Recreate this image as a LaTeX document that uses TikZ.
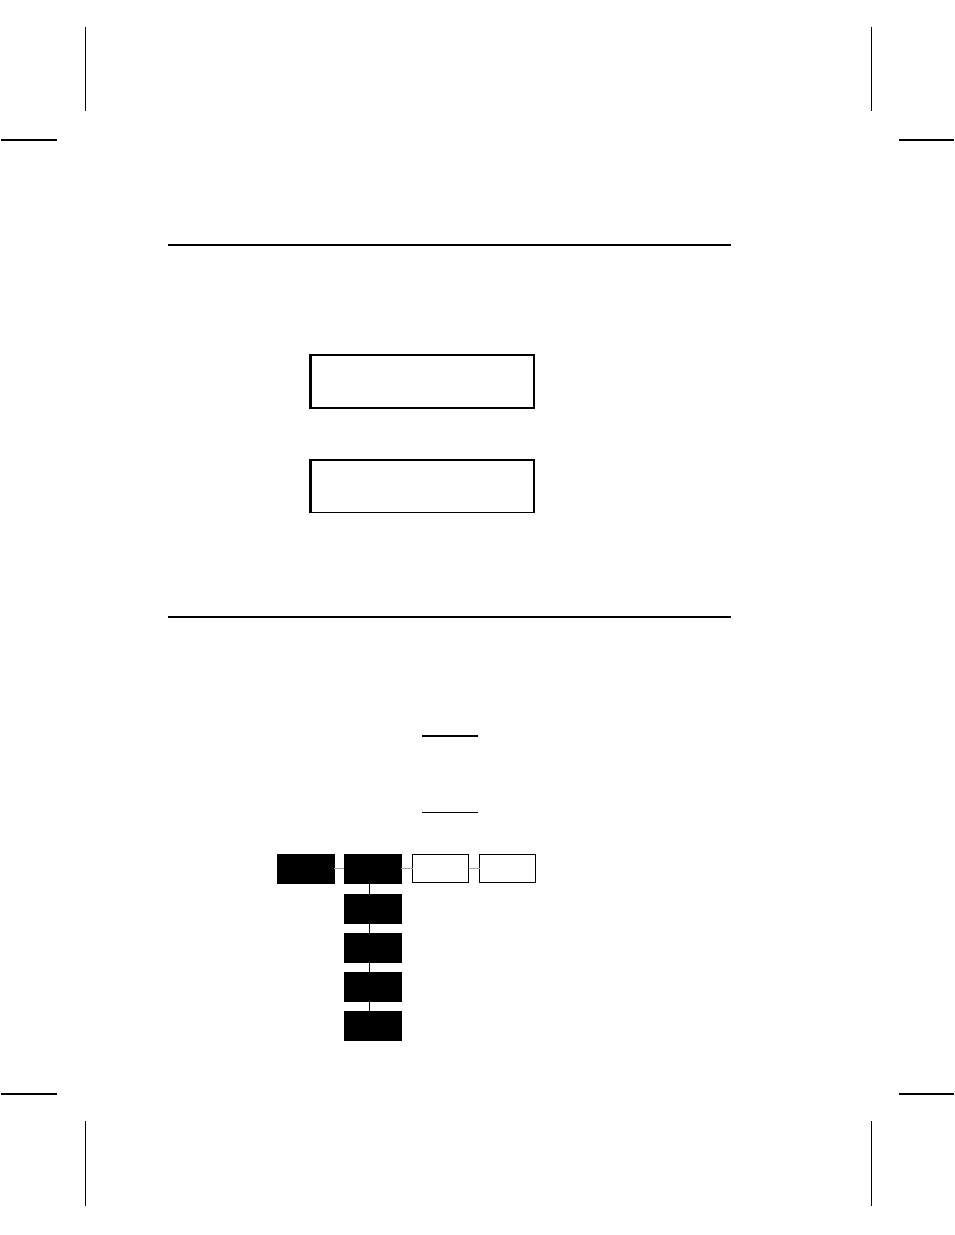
\documentclass[tikz,border=0pt]{standalone}
\begin{document}
\begin{tikzpicture}[x=1pt,y=-1pt,
  crop/.style={line width=1.3pt,black},
  cropthick/.style={line width=2pt,black},
  rule/.style={line width=1.5pt,black},
  panel/.style={draw,line width=1.1pt,minimum width=224pt,minimum height=53pt,inner sep=0pt,outer sep=0pt},
  blk/.style={fill=black,draw=black,line width=0.8pt,minimum width=57pt,minimum height=29pt,inner sep=0pt,outer sep=0pt},
  wht/.style={fill=white,draw=black,line width=0.9pt,minimum width=56pt,minimum height=28pt,inner sep=0pt,outer sep=0pt},
  hlink/.style={draw=gray!70,line width=1.6pt},
  vlink/.style={draw=black,line width=1pt}]
\useasboundingbox (0,0) rectangle (954,1235);
% crop marks
\draw[crop] (85.5,27) -- (85.5,111);
\draw[crop] (871.5,27) -- (871.5,111);
\draw[crop] (85.5,1121) -- (85.5,1206);
\draw[crop] (871.5,1121) -- (871.5,1206);
\draw[cropthick] (1,140) -- (57,140);
\draw[cropthick] (899,140) -- (954,140);
\draw[cropthick] (1,1094) -- (57,1094);
\draw[cropthick] (899,1094) -- (954,1094);
% rules
\draw[rule] (168,245) -- (731,245);
\draw[rule] (168,617) -- (731,617);
% panels
\node[panel] (p1) at (422,381.5) {};
\draw[line width=2pt] ([xshift=0.5pt]p1.north west) -- ([xshift=0.5pt]p1.south west);
\draw[line width=2pt] ([yshift=0.5pt]p1.south west) -- ([yshift=0.5pt]p1.south east);
\node[panel] (p2) at (422,486) {};
\draw[line width=2pt] ([xshift=0.5pt]p2.north west) -- ([xshift=0.5pt]p2.south west);
\draw[line width=2pt] ([yshift=-0.5pt]p2.north west) -- ([yshift=-0.5pt]p2.north east);
% underlines
\draw[line width=1.3pt] (422,736) -- (478,736);
\draw[line width=1.3pt] (422,812.5) -- (478,812.5);
% menu tree
\node[blk] (a) at (305.5,868.5) {};
\node[blk] (b) at (372.5,868.5) {};
\node[wht] (c) at (440.5,868.5) {};
\node[wht] (d) at (507.5,868.5) {};
\node[blk] (b2) at (372.5,908.5) {};
\node[blk] (b3) at (372.5,947.5) {};
\node[blk] (b4) at (372.5,986.5) {};
\node[blk] (b5) at (372.5,1025.5) {};
\draw[hlink] (a.east) -- (b.west);
\draw[hlink] (b.east) -- (c.west);
\draw[hlink] (c.east) -- (d.west);
\draw[vlink] ([xshift=-3pt]b.south) -- ([xshift=-3pt]b2.north);
\draw[vlink] ([xshift=-3pt]b2.south) -- ([xshift=-3pt]b3.north);
\draw[vlink] ([xshift=-3pt]b3.south) -- ([xshift=-3pt]b4.north);
\draw[vlink] ([xshift=-3pt]b4.south) -- ([xshift=-3pt]b5.north);
\end{tikzpicture}
\end{document}
